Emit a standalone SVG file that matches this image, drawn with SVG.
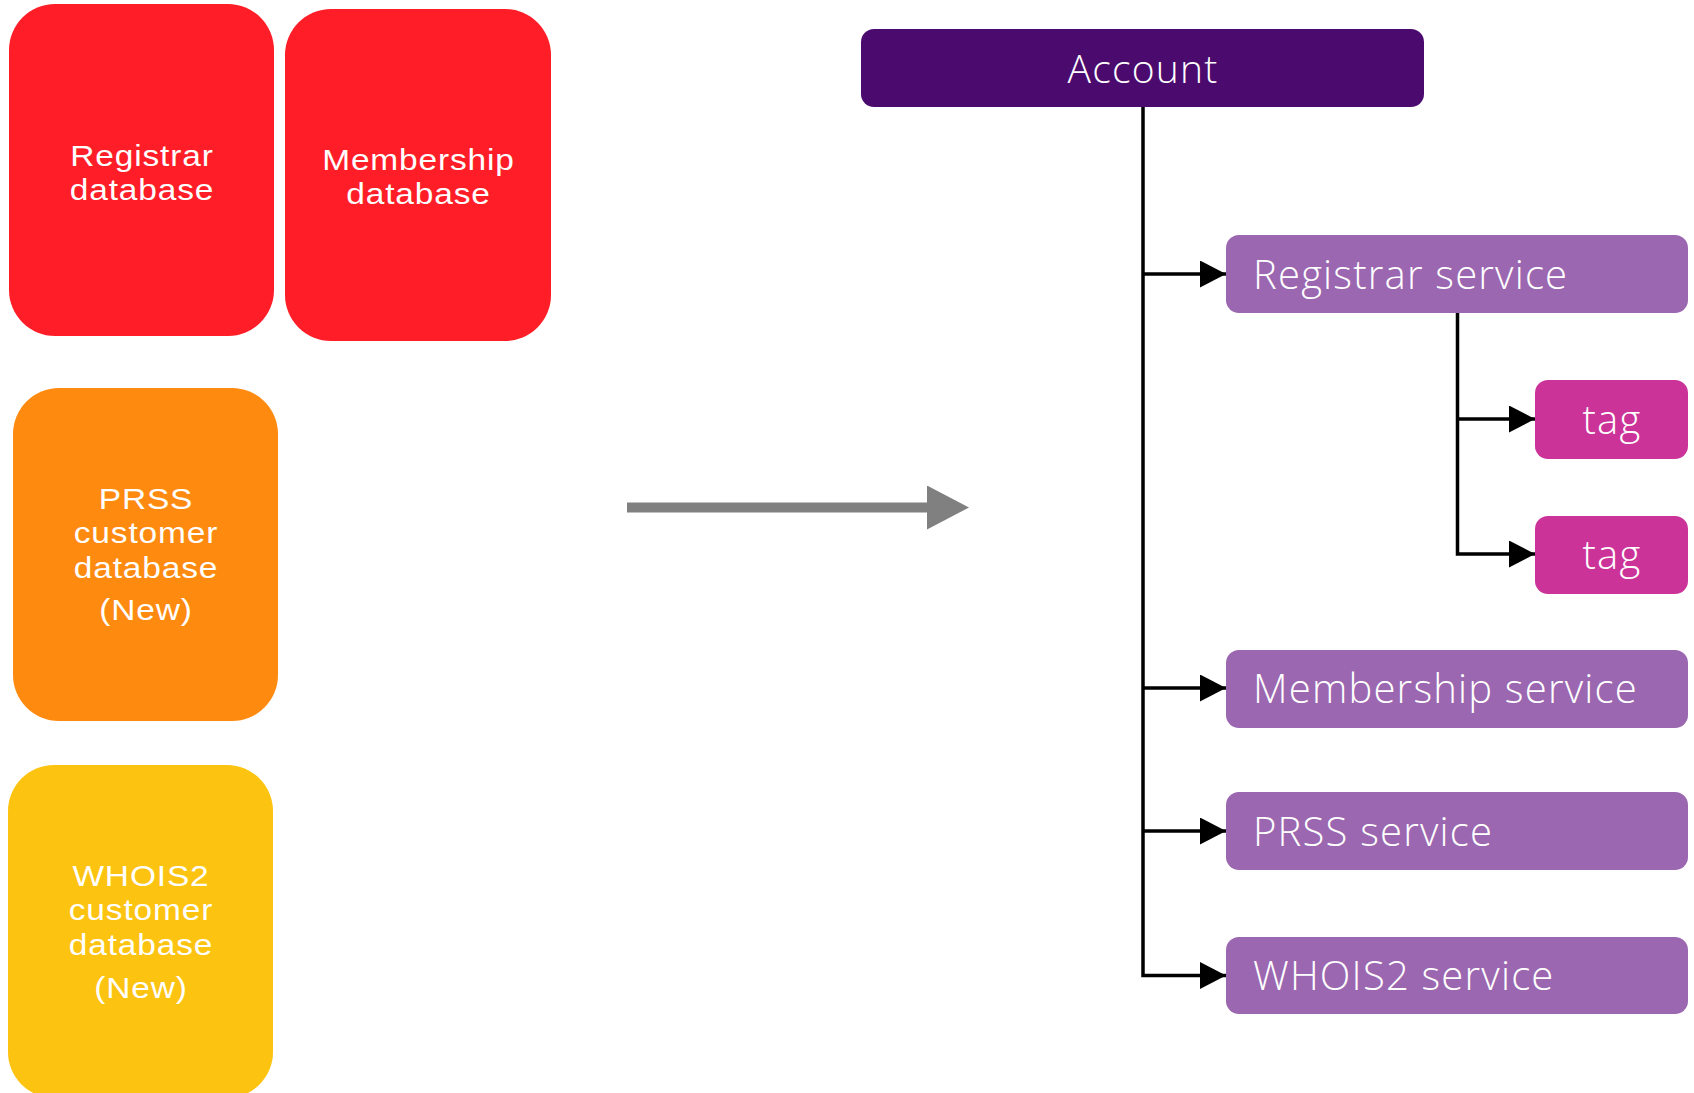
<svg xmlns="http://www.w3.org/2000/svg" width="1694" height="1093" viewBox="0 0 1694 1093">
<style>
text{font-family:"Open Sans","Liberation Sans",sans-serif;fill:#ffffff;font-weight:300}
.db{font-family:"Liberation Sans",Arial,sans-serif;font-weight:400;font-size:30.4px;letter-spacing:0.8px;text-anchor:middle}
.svc{font-size:40px;letter-spacing:1.2px}
.tag{font-size:40px;letter-spacing:1.2px;text-anchor:middle}
.acc{font-size:39px;letter-spacing:1.2px;text-anchor:middle}
.conn{fill:none;stroke:#000000;stroke-width:3.5}
.svcbox{fill:#9B67B0}
.tagbox{fill:#CC3399}
</style>
<defs>
<marker id="ah" markerUnits="userSpaceOnUse" markerWidth="26" markerHeight="27" refX="26" refY="13.5" orient="auto">
<path d="M0,0 L26,13.5 L0,27 z" fill="#000000"/>
</marker>
<marker id="big" markerUnits="userSpaceOnUse" markerWidth="42" markerHeight="44" refX="0" refY="22" orient="auto">
<path d="M0,0 L42,22 L0,44 z" fill="#808080"/>
</marker>
</defs>
<rect width="1694" height="1093" fill="#ffffff"/>

<g id="registrar-db">
<rect x="9" y="4" width="265" height="332" rx="46" fill="#FF1E27"/>
<text class="db" transform="translate(142 0) scale(1.1 1)"><tspan x="0" y="166">Registrar</tspan><tspan x="0" y="200">database</tspan></text>
</g>
<g id="membership-db">
<rect x="285" y="9" width="266" height="332" rx="46" fill="#FF1E27"/>
<text class="db" transform="translate(418.5 0) scale(1.1 1)"><tspan x="0" y="170">Membership</tspan><tspan x="0" y="204">database</tspan></text>
</g>
<g id="prss-db">
<rect x="13" y="388" width="265" height="333" rx="46" fill="#FF8A10"/>
<text class="db" transform="translate(146 0) scale(1.1 1)"><tspan x="0" y="509">PRSS</tspan><tspan x="0" y="543.5">customer</tspan><tspan x="0" y="578">database</tspan><tspan x="0" y="620">(New)</tspan></text>
</g>
<g id="whois2-db">
<rect x="8" y="765" width="265" height="333" rx="46" fill="#FDC311"/>
<text class="db" transform="translate(141 0) scale(1.1 1)"><tspan x="0" y="886">WHOIS2</tspan><tspan x="0" y="920.5">customer</tspan><tspan x="0" y="955">database</tspan><tspan x="0" y="998">(New)</tspan></text>
</g>

<g id="transition-arrow">
<path d="M627,507.5 H927" stroke="#808080" stroke-width="10" fill="none" marker-end="url(#big)"/>
</g>

<g id="connectors">
<path class="conn" d="M1143,107 V975.5 H1226" marker-end="url(#ah)"/>
<path class="conn" d="M1143,274 H1226" marker-end="url(#ah)"/>
<path class="conn" d="M1143,688 H1226" marker-end="url(#ah)"/>
<path class="conn" d="M1143,831 H1226" marker-end="url(#ah)"/>
<path class="conn" d="M1457.5,313 V554 H1535" marker-end="url(#ah)"/>
<path class="conn" d="M1457.5,419 H1535" marker-end="url(#ah)"/>
</g>

<g id="account">
<rect x="861" y="29" width="563" height="78" rx="13" fill="#4B0A6E"/>
<text class="acc" x="1143" y="83">Account</text>
</g>
<g id="registrar-service">
<rect class="svcbox" x="1226" y="235" width="462" height="78" rx="13"/>
<text class="svc" x="1253" y="289">Registrar service</text>
</g>
<g id="tag-1">
<rect class="tagbox" x="1535" y="380" width="153" height="79" rx="13"/>
<text class="tag" x="1612" y="434">tag</text>
</g>
<g id="tag-2">
<rect class="tagbox" x="1535" y="516" width="153" height="78" rx="13"/>
<text class="tag" x="1612" y="569">tag</text>
</g>
<g id="membership-service">
<rect class="svcbox" x="1226" y="650" width="462" height="78" rx="13"/>
<text class="svc" x="1253" y="703">Membership service</text>
</g>
<g id="prss-service">
<rect class="svcbox" x="1226" y="792" width="462" height="78" rx="13"/>
<text class="svc" x="1253" y="846">PRSS service</text>
</g>
<g id="whois2-service">
<rect class="svcbox" x="1226" y="937" width="462" height="77" rx="13"/>
<text class="svc" x="1253" y="990">WHOIS2 service</text>
</g>
</svg>
